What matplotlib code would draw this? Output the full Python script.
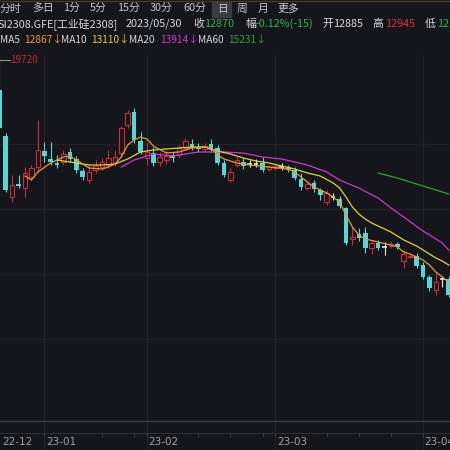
import matplotlib.pyplot as plt
from matplotlib.lines import Line2D
import numpy as np

plt.rcParams['font.family'] = ['Noto Sans CJK SC', 'DejaVu Sans']

# daily candles of SI2308, from the listing day (2022-12-22) on
opens = [19120, 18200, 16980, 17240, 17160, 17380, 17580, 17900, 17740, 17660,
         17680, 17880, 17740, 17500, 17320, 17520, 17580, 17620, 17660, 17860,
         18420, 18680, 18100, 17760, 17860, 17680, 17720, 17820, 17820, 17960,
         18040, 17980, 17940, 18040, 17960, 17660, 17320, 17620, 17680, 17650,
         17640, 17660, 17540, 17560, 17580, 17580, 17520, 17340, 17160, 17260,
         17120, 16880, 16980, 16940, 16760, 16140, 16240, 16260, 15960, 16060,
         15980, 16000, 16040, 15700, 15780, 15800, 15620, 15380, 15120, 15340,
         15340]
closes = [18360, 17120, 17220, 17200, 17460, 17560, 17920, 17800, 17680, 17620,
          17840, 17740, 17520, 17380, 17480, 17600, 17680, 17760, 17780, 18360,
          18660, 18120, 17880, 17880, 17660, 17780, 17800, 17760, 17960, 18100,
          17980, 17940, 18000, 17920, 17660, 17420, 17480, 17720, 17600, 17650,
          17640, 17520, 17580, 17600, 17580, 17520, 17360, 17180, 17240, 17140,
          17020, 17060, 16980, 16800, 16060, 16180, 16160, 15960, 16060, 15960,
          15980, 16040, 15980, 15840, 15800, 15600, 15380, 15160, 15280, 15340,
          15020]
highs = [19720, 18260, 17420, 17420, 17580, 17620, 18520, 18080, 18080, 17820,
         17920, 17960, 17800, 17560, 17620, 17720, 17760, 17920, 17920, 18400,
         18720, 18760, 18280, 18080, 17980, 17880, 17920, 17880, 18020, 18160,
         18140, 18060, 18060, 18140, 18020, 17720, 17560, 17780, 17760, 17720,
         17740, 17780, 17620, 17640, 17660, 17620, 17580, 17460, 17280, 17320,
         17160, 17120, 17060, 17000, 16780, 16380, 16360, 16380, 16120, 16120,
         16080, 16080, 16080, 15920, 15840, 15860, 15680, 15420, 15460, 15400,
         15400]
lows = [18320, 17080, 16880, 17160, 16980, 17320, 17480, 17680, 17620, 17560,
        17620, 17680, 17460, 17320, 17260, 17460, 17520, 17560, 17600, 17800,
        18360, 18060, 17840, 17620, 17600, 17600, 17640, 17680, 17760, 17920,
        17920, 17880, 17900, 17880, 17620, 17380, 17280, 17580, 17540, 17580,
        17580, 17480, 17500, 17520, 17520, 17480, 17320, 17120, 17120, 17080,
        16920, 16820, 16920, 16760, 16020, 16020, 16100, 15860, 15840, 15920,
        15820, 15960, 15940, 15560, 15760, 15560, 15340, 15100, 15020, 15180,
        14980]

# moving averages (candle index, price)
ma5_idx = [4, 5, 6, 8, 10, 11, 12, 14, 16, 17, 18, 19, 20, 21, 22, 23, 24, 26,
           28, 30, 32, 33, 34, 35, 37, 39, 42, 45, 46, 47, 49, 51, 52, 53, 54,
           55, 56, 57, 59, 61, 62, 63, 64, 65, 66, 67, 68, 69, 70]
ma5_val = [17400, 17320, 17480, 17660, 17780, 17800, 17720, 17560, 17540, 17580,
           17640, 17780, 18020, 18120, 18180, 18140, 18000, 17860, 17880, 17960,
           17980, 17960, 17820, 17740, 17660, 17620, 17580, 17540, 17480, 17380,
           17180, 17060, 16980, 16880, 16620, 16380, 16220, 16140, 16080, 16020,
           15980, 15880, 15840, 15780, 15720, 15620, 15480, 15380, 15280]
ma10_idx = [9, 10, 12, 14, 16, 18, 20, 22, 24, 26, 28, 30, 32, 34, 36, 38, 40,
            42, 44, 46, 48, 50, 52, 53, 54, 55, 56, 57, 58, 59, 61, 63, 65, 67,
            68, 69, 70]
ma10_val = [17720, 17700, 17660, 17620, 17620, 17640, 17740, 17880, 17920, 17940,
            17960, 17980, 17980, 17900, 17840, 17760, 17700, 17660, 17600, 17540,
            17460, 17400, 17260, 17160, 16980, 16780, 16640, 16540, 16460, 16400,
            16280, 16120, 16000, 15840, 15760, 15700, 15620]
ma20_idx = [19, 21, 24, 27, 31, 35, 38, 41, 44, 48, 51, 53, 56, 59, 61, 63, 66,
            69, 70]
ma20_val = [17580, 17720, 17840, 17800, 17880, 17880, 17860, 17780, 17740, 17620,
            17480, 17320, 17160, 16960, 16760, 16580, 16300, 16060, 15920]
ma60_idx = [59, 62, 65, 68, 70]
ma60_val = [17460, 17360, 17240, 17120, 17040]

month_idx = [0, 7, 23, 43, 66]
month_labels = ['22-12', '23-01', '23-02', '23-03', '23-04']
week_idx = [16, 21, 31, 36, 41, 51, 56, 61]

BG = '#14161b'
UP = '#cf2a3c'
DOWN = '#55d6d8'
GRID = '#202329'

fig = plt.figure(figsize=(4.5, 4.5), dpi=100, facecolor=BG)


def fx(x):
    return x / 450


def fy(y):
    return 1 - y / 450


ax = fig.add_axes([0, fy(420), 1, (420 - 55) / 450])
ax.set_facecolor(BG)
ax.set_xlim(0.11, 70.2)
ax.set_ylim(12520, 19820)
ax.axis('off')

for m in month_idx[1:]:
    ax.axvline(m, color=GRID, lw=0.9, zorder=0)
for p in [18040, 16740, 15440, 14140]:
    ax.axhline(p, color=GRID, lw=0.9, zorder=0)

o = np.array(opens)
c = np.array(closes)
h = np.array(highs)
l = np.array(lows)
idx = np.arange(len(o))
up = c > o
down = c < o
flat = c == o

ax.vlines(idx[up], l[up], h[up], color=UP, lw=0.8, zorder=2)
ax.vlines(idx[down], l[down], h[down], color=DOWN, lw=0.8, zorder=2)
ax.vlines(idx[flat], l[flat], h[flat], color='#e8e8e8', lw=0.8, zorder=2)
w = 0.72
ax.bar(idx[up], c[up] - o[up], w, bottom=o[up], facecolor=BG, edgecolor=UP,
       lw=0.8, zorder=3)
ax.bar(idx[down], o[down] - c[down], w, bottom=c[down], color=DOWN, lw=0, zorder=3)
ax.hlines(c[flat], idx[flat] - w / 2, idx[flat] + w / 2, color='#e8e8e8', lw=1.2,
          zorder=3)

ax.plot(ma60_idx, ma60_val, color='#2ea33a', lw=0.9, zorder=4)
ax.plot(ma20_idx, ma20_val, color='#d632d6', lw=0.9, zorder=4)
ax.plot(ma10_idx, ma10_val, color='#e2d42a', lw=0.9, zorder=4)
ax.plot(ma5_idx, ma5_val, color='#ee9a2a', lw=0.9, zorder=4)

# bottom date strip
axb = fig.add_axes([0, 0, 1, 30 / 450])
axb.set_facecolor(BG)
axb.set_xlim(0.11, 70.2)
axb.set_ylim(30, 0)
axb.axis('off')
axb.axhline(1, color='#3a3d44', lw=1)
axb.axhline(13, color='#2c2f35', lw=0.8)
for m in month_idx[1:]:
    axb.axvline(m, color=GRID, lw=0.9, zorder=0)
for k in week_idx + month_idx[1:]:
    axb.plot([k, k], [13, 16], color='#3a3d44', lw=0.8)
for m, lab in zip(month_idx, month_labels):
    axb.text(max(m, 0.15) + 0.25, 22, lab, color='#a0a2a6', fontsize=7.5,
             va='center', ha='left', family=['DejaVu Sans'])

# header
fig.add_artist(Line2D([0, 1], [fy(0.5), fy(0.5)], color='#4a3a2a', lw=1))
tabs = ['分时', '多日', '1分', '5分', '15分', '30分', '60分', '日', '周', '月', '更多']
tab_x = [0, 32, 63, 90, 117, 150, 183, 217, 237, 258, 277]
fig.patches.append(plt.Rectangle((fx(212), fy(17)), fx(19), 15 / 450,
                                 transform=fig.transFigure, color='#3a3c44'))
for t, x in zip(tabs, tab_x):
    fig.text(fx(x), fy(9), t, color='#c8c8c8', fontsize=7.8, va='center')

row2 = [('SI2308.GFE[工业硅2308]', '#d8d8d8', -3), ('2023/05/30', '#d8d8d8', 126),
        ('收', '#d8d8d8', 193), ('12870', '#2fb84a', 204), ('幅', '#d8d8d8', 245),
        ('-0.12%(-15)', '#2fb84a', 256), ('开', '#d8d8d8', 322),
        ('12885', '#d8d8d8', 333), ('高', '#d8d8d8', 372), ('12945', '#e0303e', 385),
        ('低', '#d8d8d8', 425), ('12780', '#2fb84a', 437)]
for t, col, x in row2:
    fig.text(fx(x), fy(24), t, color=col, fontsize=7.8, va='center')

row3 = [('MA5', '#d8d8d8', 0), ('12867↓', '#ee9a2a', 24), ('MA10', '#d8d8d8', 61),
        ('13110↓', '#e2d42a', 91), ('MA20', '#d8d8d8', 129),
        ('13914↓', '#d632d6', 160), ('MA60', '#d8d8d8', 198),
        ('15231↓', '#2ea33a', 228)]
for t, col, x in row3:
    fig.text(fx(x), fy(40), t, color=col, fontsize=7.3, va='center')

fig.add_artist(Line2D([0, fx(10)], [fy(60), fy(60)], color='#909090', lw=0.8))
fig.text(fx(10), fy(60), '19720', color='#c8283a', fontsize=7.2, va='center')

fig.savefig('out.png', dpi=100, facecolor=BG)
